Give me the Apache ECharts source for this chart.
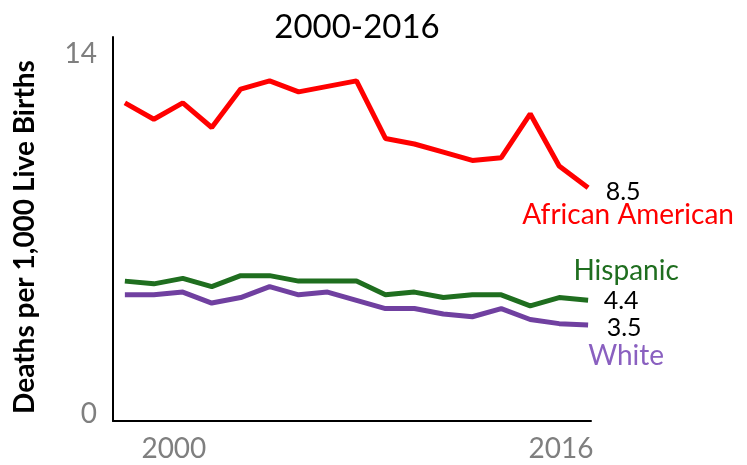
<!DOCTYPE html>
<html>
<head>
<meta charset="utf-8">
<script src="https://cdn.jsdelivr.net/npm/echarts@6/dist/echarts.min.js"></script>
<style>
html,body{margin:0;padding:0;background:#fff;}
#chart{width:747px;height:465px;}
</style>
</head>
<body>
<div id="chart"></div>
<script>
const years = [2000,2001,2002,2003,2004,2005,2006,2007,2008,2009,2010,2011,2012,2013,2014,2015,2016];
const africanAmerican = [11.6,11.0,11.6,10.7,12.1,12.4,12.0,12.2,12.4,10.3,10.1,9.8,9.5,9.6,11.2,9.3,8.5];
const hispanic = [5.1,5.0,5.2,4.9,5.3,5.3,5.1,5.1,5.1,4.6,4.7,4.5,4.6,4.6,4.2,4.5,4.4];
const white = [4.6,4.6,4.7,4.3,4.5,4.9,4.6,4.7,4.4,4.1,4.1,3.9,3.8,4.1,3.7,3.55,3.5];
const seriesNames = ['African American','Hispanic','White'];
const endValues = ['8.5','4.4','3.5'];
const xTickLabels = [2000, 2016];
const yTickLabels = [0, 14];
const title = '2000-2016';
const yName = 'Deaths per 1,000 Live Births';

const FONT = 'Lato';
const pair = (vals) => years.map((y, i) => [y, vals[i]]);

const chart = echarts.init(document.getElementById('chart'), null, {renderer: 'canvas'});
chart.setOption({
  animation: false,
  backgroundColor: '#fff',
  title: {
    text: title, left: 352, top: 6, textAlign: 'center',
    textStyle: {fontFamily: FONT, fontSize: 33, fontWeight: 'normal', color: '#000'}
  },
  grid: {left: 113, right: 156, top: 37, bottom: 44, containLabel: false},
  xAxis: {
    type: 'value', min: 1999.59, max: 2016.1,
    axisLine: {show: true, lineStyle: {color: '#000', width: 2}},
    axisTick: {show: false},
    splitLine: {show: false},
    axisLabel: {
      customValues: xTickLabels, margin: 14,
      formatter: (v) => v === xTickLabels[0] ? '{a|' + v + '}' : '{b|' + v + '}',
      rich: {
        a: {fontFamily: FONT, fontSize: 28, color: '#7f7f7f', padding: [0, 0, 0, 98]},
        b: {fontFamily: FONT, fontSize: 28, color: '#7f7f7f', padding: [0, 54, 0, 0]}
      }
    }
  },
  yAxis: {
    type: 'value', min: 0, max: 14, interval: 14,
    name: yName, nameLocation: 'middle', nameGap: 74, nameRotate: 90,
    nameTextStyle: {fontFamily: FONT, fontSize: 28, fontWeight: 'bold', color: '#000', padding: [0, 16, 0, 0]},
    axisLine: {show: true, lineStyle: {color: '#000', width: 2}},
    axisTick: {show: false},
    splitLine: {show: false},
    axisLabel: {
      margin: 16,
      formatter: (v) => v === yTickLabels[1] ? '{t|' + v + '}' : '{z|' + v + '}',
      rich: {
        t: {fontFamily: FONT, fontSize: 28, color: '#7f7f7f', padding: [34, 0, 0, 0]},
        z: {fontFamily: FONT, fontSize: 28, color: '#7f7f7f', padding: [0, 0, 14, 0]}
      }
    }
  },
  series: [
    {
      name: seriesNames[0], type: 'line', data: pair(africanAmerican),
      symbol: 'none', lineStyle: {color: '#ff0000', width: 5}, itemStyle: {color: '#ff0000'},
      endLabel: {
        show: true, align: 'center', verticalAlign: 'middle', offset: [32, 16],
        formatter: '{v|' + endValues[0] + '}\n{n|' + seriesNames[0] + '}',
        rich: {
          v: {fontFamily: FONT, fontSize: 25, color: '#000', lineHeight: 23, padding: [0, 10, 0, 0]},
          n: {fontFamily: FONT, fontSize: 28, color: '#ff0000', lineHeight: 23}
        }
      }
    },
    {
      name: seriesNames[1], type: 'line', data: pair(hispanic),
      symbol: 'none', lineStyle: {color: '#1f6e1f', width: 5}, itemStyle: {color: '#1f6e1f'},
      endLabel: {
        show: true, align: 'center', verticalAlign: 'middle', offset: [30, -14],
        formatter: '{n|' + seriesNames[1] + '}\n{v|' + endValues[1] + '}',
        rich: {
          v: {fontFamily: FONT, fontSize: 25, color: '#000', lineHeight: 30, padding: [0, 10, 0, 0]},
          n: {fontFamily: FONT, fontSize: 28, color: '#1f6e1f', lineHeight: 30}
        }
      }
    },
    {
      name: seriesNames[2], type: 'line', data: pair(white),
      symbol: 'none', lineStyle: {color: '#7040a0', width: 5}, itemStyle: {color: '#7040a0'},
      endLabel: {
        show: true, align: 'center', verticalAlign: 'middle', offset: [30, 17],
        formatter: '{v|' + endValues[2] + '}\n{n|' + seriesNames[2] + '}',
        rich: {
          v: {fontFamily: FONT, fontSize: 25, color: '#000', lineHeight: 28, padding: [0, 4, 0, 0]},
          n: {fontFamily: FONT, fontSize: 28, color: '#8a60c0', lineHeight: 28}
        }
      }
    }
  ]
});
</script>
</body>
</html>
